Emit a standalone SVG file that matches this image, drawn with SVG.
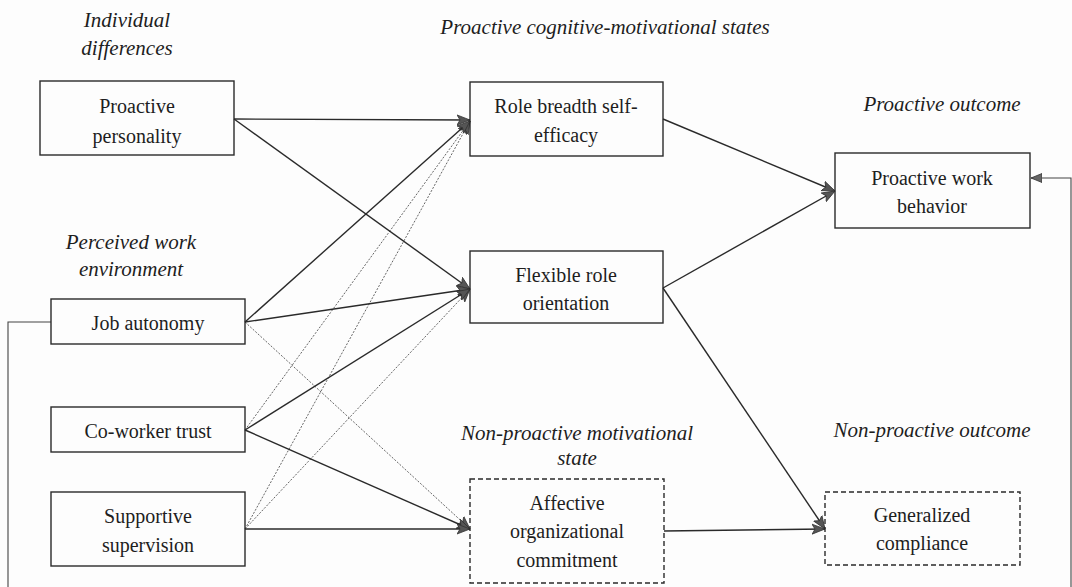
<svg xmlns="http://www.w3.org/2000/svg" width="1072" height="587" viewBox="0 0 1072 587" font-family="Liberation Serif, Times New Roman, serif">
<defs>
<style>
.bg{fill:#fdfdfd}
.box{fill:none;stroke:#2a2a2a;stroke-width:1.4}
.dash{fill:none;stroke:#2a2a2a;stroke-width:1.4;stroke-dasharray:5 3}
.t{font-family:"Liberation Serif","Times New Roman",serif;font-size:20px;fill:#1e1e1e;text-anchor:middle}
.h{font-family:"Liberation Serif","Times New Roman",serif;font-size:21px;font-style:italic;fill:#1e1e1e;text-anchor:middle}
.s{fill:none;stroke:#2a2a2a;stroke-width:1.4;marker-end:url(#ah)}
.d{fill:none;stroke:#666;stroke-width:1;stroke-dasharray:2 1.5;marker-end:url(#ah)}
.fb{fill:none;stroke:#444;stroke-width:1.1;marker-end:url(#ah2)}
</style>
<marker id="ah" markerUnits="userSpaceOnUse" markerWidth="14" markerHeight="12" viewBox="0 0 14 12" refX="13" refY="6" orient="auto">
<path d="M0,1 L13,6 L0,11 L3,6 Z" fill="#555" stroke="#333" stroke-width="0.8"/>
</marker>
<marker id="ah2" markerUnits="userSpaceOnUse" markerWidth="12" markerHeight="10" viewBox="0 0 12 10" refX="11" refY="5" orient="auto">
<path d="M0,0.5 L11,5 L0,9.5 Z" fill="#666" stroke="#333" stroke-width="0.8"/>
</marker>
</defs>
<rect class="bg" x="0" y="0" width="1072" height="587"/>

<g id="headings">
<text class="h" x="127" y="27">Individual</text>
<text class="h" x="127" y="55">differences</text>
<text class="h" x="605" y="34">Proactive cognitive-motivational states</text>
<text class="h" x="942" y="111">Proactive outcome</text>
<text class="h" x="131" y="249">Perceived work</text>
<text class="h" x="131" y="276">environment</text>
<text class="h" x="577" y="440">Non-proactive motivational</text>
<text class="h" x="577" y="465">state</text>
<text class="h" x="932" y="437">Non-proactive outcome</text>
</g>

<g id="connectors">
<line class="d" x1="245" y1="322" x2="470" y2="529"/>
<line class="d" x1="245" y1="430" x2="470" y2="121"/>
<line class="d" x1="245" y1="529" x2="470" y2="121"/>
<line class="d" x1="245" y1="529" x2="470" y2="289"/>
<line class="s" x1="234" y1="119" x2="470" y2="120"/>
<line class="s" x1="234" y1="119" x2="470" y2="289"/>
<line class="s" x1="245" y1="322" x2="470" y2="121"/>
<line class="s" x1="245" y1="322" x2="470" y2="289"/>
<line class="s" x1="245" y1="430" x2="470" y2="289"/>
<line class="s" x1="245" y1="430" x2="470" y2="529"/>
<line class="s" x1="245" y1="529" x2="470" y2="529"/>
<line class="s" x1="663" y1="119" x2="835" y2="191"/>
<line class="s" x1="663" y1="288" x2="835" y2="191"/>
<line class="s" x1="663" y1="288" x2="825" y2="529"/>
<line class="s" x1="664" y1="531" x2="825" y2="529"/>
<path class="fb" d="M51,322 H8 V600 H1071 V178 H1031"/>
</g>

<g id="proactive-personality">
<rect class="box" x="40" y="81" width="194" height="74"/>
<text class="t" x="137" y="113">Proactive</text>
<text class="t" x="137" y="143">personality</text>
</g>
<g id="job-autonomy">
<rect class="box" x="51" y="299" width="194" height="45"/>
<text class="t" x="148" y="330">Job autonomy</text>
</g>
<g id="coworker-trust">
<rect class="box" x="51" y="407" width="194" height="45"/>
<text class="t" x="148" y="438">Co-worker trust</text>
</g>
<g id="supportive-supervision">
<rect class="box" x="51" y="492" width="194" height="74"/>
<text class="t" x="148" y="523">Supportive</text>
<text class="t" x="148" y="552">supervision</text>
</g>
<g id="role-breadth-self-efficacy">
<rect class="box" x="470" y="82" width="193" height="74"/>
<text class="t" x="566" y="113">Role breadth self-</text>
<text class="t" x="566" y="142">efficacy</text>
</g>
<g id="flexible-role-orientation">
<rect class="box" x="470" y="251" width="193" height="72"/>
<text class="t" x="566" y="282">Flexible role</text>
<text class="t" x="566" y="310">orientation</text>
</g>
<g id="affective-organizational-commitment">
<rect class="dash" x="470" y="479" width="194" height="104"/>
<text class="t" x="567" y="510">Affective</text>
<text class="t" x="567" y="538">organizational</text>
<text class="t" x="567" y="567">commitment</text>
</g>
<g id="proactive-work-behavior">
<rect class="box" x="835" y="153" width="195" height="75"/>
<text class="t" x="932" y="185">Proactive work</text>
<text class="t" x="932" y="213">behavior</text>
</g>
<g id="generalized-compliance">
<rect class="dash" x="825" y="492" width="195" height="73"/>
<text class="t" x="922" y="522">Generalized</text>
<text class="t" x="922" y="550">compliance</text>
</g>
</svg>
